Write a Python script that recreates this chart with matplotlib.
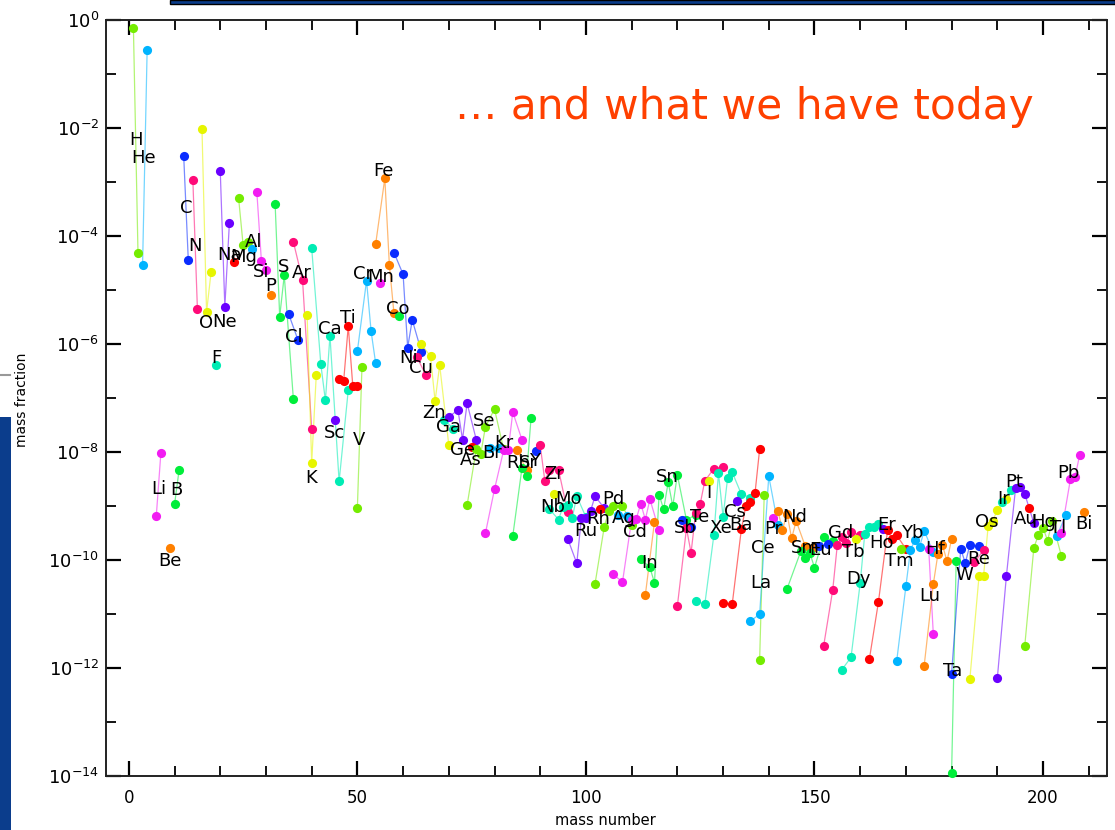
import numpy as np
import matplotlib
matplotlib.use("Agg")
import matplotlib.pyplot as plt
from matplotlib.patches import Rectangle
from matplotlib.lines import Line2D
import matplotlib.ticker as mticker

# ---------------- data (solar system isotopic mass fractions) ----------------
elements = ['H', 'He', 'Li', 'Be', 'B', 'C', 'N', 'O', 'F', 'Ne', 'Na', 'Mg', 'Al', 'Si', 'P', 'S',
            'Cl', 'Ar', 'K', 'Ca', 'Sc', 'Ti', 'V', 'Cr', 'Mn', 'Fe', 'Co', 'Ni', 'Cu', 'Zn', 'Ga',
            'Ge', 'As', 'Se', 'Br', 'Kr', 'Rb', 'Sr', 'Y', 'Zr', 'Nb', 'Mo', 'Ru', 'Rh', 'Pd', 'Ag',
            'Cd', 'In', 'Sn', 'Sb', 'Te', 'I', 'Xe', 'Cs', 'Ba', 'La', 'Ce', 'Pr', 'Nd', 'Sm', 'Eu',
            'Gd', 'Tb', 'Dy', 'Ho', 'Er', 'Tm', 'Yb', 'Lu', 'Hf', 'Ta', 'W', 'Re', 'Os', 'Ir', 'Pt',
            'Au', 'Hg', 'Tl', 'Pb', 'Bi']

mass_numbers = [
    [1, 2], [3, 4], [6, 7], [9], [10, 11], [12, 13], [14, 15], [16, 17, 18], [19], [20, 21, 22],
    [23], [24, 25, 26], [27], [28, 29, 30], [31], [32, 33, 34, 36], [35, 37], [36, 38, 40],
    [39, 40, 41], [40, 42, 43, 44, 46, 48], [45], [46, 47, 48, 49, 50], [50, 51], [50, 52, 53, 54],
    [55], [54, 56, 57, 58], [59], [58, 60, 61, 62, 64], [63, 65], [64, 66, 67, 68, 70], [69, 71],
    [70, 72, 73, 74, 76], [75], [74, 76, 77, 78, 80, 82], [79, 81], [78, 80, 82, 83, 84, 86],
    [85, 87], [84, 86, 87, 88], [89], [90, 91, 92, 94, 96], [93], [92, 94, 95, 96, 97, 98, 100],
    [96, 98, 99, 100, 101, 102, 104], [103], [102, 104, 105, 106, 108, 110], [107, 109],
    [106, 108, 110, 111, 112, 113, 114, 116], [113, 115],
    [112, 114, 115, 116, 117, 118, 119, 120, 122, 124], [121, 123],
    [120, 122, 123, 124, 125, 126, 128, 130], [127], [124, 126, 128, 129, 130, 131, 132, 134, 136],
    [133], [130, 132, 134, 135, 136, 137, 138], [138, 139], [136, 138, 140, 142], [141],
    [142, 143, 144, 145, 146, 148, 150], [144, 147, 148, 149, 150, 152, 154], [151, 153],
    [152, 154, 155, 156, 157, 158, 160], [159], [156, 158, 160, 161, 162, 163, 164], [165],
    [162, 164, 166, 167, 168, 170], [169], [168, 170, 171, 172, 173, 174, 176], [175, 176],
    [174, 176, 177, 178, 179, 180], [180, 181], [180, 182, 183, 184, 186], [185, 187],
    [184, 186, 187, 188, 189, 190, 192], [191, 193], [190, 192, 194, 195, 196, 198], [197],
    [196, 198, 199, 200, 201, 202, 204], [203, 205], [204, 206, 207, 208], [209]]

mass_fractions = [
    [0.706, 4.8e-5], [2.9e-5, 0.275], [6.5e-10, 9.4e-9], [1.66e-10], [1.07e-9, 4.7e-9],
    [3.03e-3, 3.65e-5], [1.105e-3, 4.4e-6], [9.61e-3, 3.9e-6, 2.17e-5], [4.05e-7],
    [1.575e-3, 4.9e-6, 1.77e-4], [3.34e-5], [5.15e-4, 6.8e-5, 7.8e-5], [5.8e-5],
    [6.53e-4, 3.43e-5, 2.35e-5], [8.16e-6], [3.96e-4, 3.22e-6, 1.87e-5, 9.4e-8],
    [3.52e-6, 1.19e-6], [7.74e-5, 1.53e-5, 2.7e-8], [3.47e-6, 6.3e-9, 2.63e-7],
    [5.99e-5, 4.2e-7, 9.0e-8, 1.42e-6, 2.85e-9, 1.39e-7], [3.89e-8],
    [2.23e-7, 2.08e-7, 2.15e-6, 1.64e-7, 1.64e-7], [9.3e-10, 3.77e-7],
    [7.43e-7, 1.49e-5, 1.72e-6, 4.37e-7], [1.33e-5], [7.13e-5, 1.17e-3, 2.86e-5, 3.7e-6],
    [3.36e-6], [4.94e-5, 1.95e-5, 8.6e-7, 2.78e-6, 7.26e-7], [5.75e-7, 2.65e-7],
    [9.92e-7, 5.87e-7, 8.76e-8, 4.08e-7, 1.34e-8], [3.96e-8, 2.71e-8],
    [4.47e-8, 5.99e-8, 1.7e-8, 8.0e-8, 1.7e-8], [1.245e-8],
    [1.03e-9, 1.12e-8, 9.23e-9, 2.91e-8, 6.23e-8, 1.12e-8], [1.2e-8, 1.19e-8],
    [3.1e-10, 2.05e-9, 1.08e-8, 1.09e-8, 5.45e-8, 1.69e-8], [1.08e-8, 4.55e-9],
    [2.8e-10, 5.04e-9, 3.62e-9, 4.32e-8], [1.045e-8],
    [1.335e-8, 2.94e-9, 4.55e-9, 4.71e-9, 7.75e-10], [1.64e-9],
    [8.81e-10, 5.61e-10, 9.76e-10, 1.03e-9, 5.98e-10, 1.525e-9, 6.21e-10],
    [2.49e-10, 8.67e-11, 5.92e-10, 5.93e-10, 8.08e-10, 1.517e-9, 9.15e-10], [8.96e-10],
    [3.66e-11, 4.07e-10, 8.25e-10, 1.019e-9, 1.005e-9, 4.53e-10], [6.82e-10, 6.46e-10],
    [5.4e-11, 3.91e-11, 5.6e-10, 5.79e-10, 1.1e-9, 5.62e-10, 1.334e-9, 3.54e-10],
    [2.26e-11, 5.12e-10],
    [1.05e-10, 7.27e-11, 3.78e-11, 1.63e-9, 8.68e-10, 2.76e-9, 9.87e-10, 3.78e-9, 5.46e-10, 6.94e-10],
    [5.43e-10, 4.1e-10],
    [1.4e-11, 3.86e-10, 1.36e-10, 7.27e-10, 1.086e-9, 2.906e-9, 4.94e-9, 5.35e-9], [2.89e-9],
    [1.77e-11, 1.5e-11, 2.92e-10, 4.06e-9, 6.31e-10, 3.3e-9, 4.22e-9, 1.66e-9, 1.43e-9],
    [1.25e-9], [1.57e-11, 1.51e-11, 3.68e-10, 1.01e-9, 1.21e-9, 1.75e-9, 1.124e-8],
    [1.4e-12, 1.567e-9], [7.4e-12, 9.9e-12, 3.56e-9, 4.52e-10], [5.95e-10],
    [8.08e-10, 3.65e-10, 7.18e-10, 2.52e-10, 5.26e-10, 1.79e-10, 1.77e-10],
    [2.92e-11, 1.44e-10, 1.09e-10, 1.34e-10, 7.25e-11, 2.65e-10, 2.28e-10], [1.78e-10, 1.97e-10],
    [2.54e-12, 2.8e-11, 1.92e-10, 2.67e-10, 2.05e-10, 3.28e-10, 2.92e-10], [2.43e-10],
    [9.3e-13, 1.58e-12, 3.73e-11, 3.03e-10, 4.12e-10, 4.05e-10, 4.61e-10], [3.71e-10],
    [1.44e-12, 1.68e-11, 3.54e-10, 2.43e-10, 2.86e-10, 1.61e-10], [1.62e-10],
    [1.37e-12, 3.25e-11, 1.53e-10, 2.36e-10, 1.75e-10, 3.47e-10, 1.4e-10], [1.58e-10, 4.23e-12],
    [1.1e-12, 3.57e-11, 1.28e-10, 1.89e-10, 9.5e-11, 2.46e-10], [1.13e-14, 9.48e-11],
    [7.9e-13, 1.61e-10, 8.8e-11, 1.9e-10, 1.79e-10], [9.05e-11, 1.53e-10],
    [6.3e-13, 5.02e-11, 5.11e-11, 4.27e-10, 5.2e-10, 8.57e-10, 1.345e-9], [1.19e-9, 2.02e-9],
    [6.4e-13, 5.14e-11, 2.16e-9, 2.23e-9, 1.68e-9, 4.83e-10], [9.32e-10],
    [2.53e-12, 1.7e-10, 2.89e-10, 3.97e-10, 2.28e-10, 5.19e-10, 1.21e-10], [2.79e-10, 6.73e-10],
    [3.15e-10, 3.14e-9, 3.4e-9, 8.67e-9], [7.61e-10]]

# element label anchor (mass number, log10 mass fraction)
label_mass = [1.5, 3.3, 6.6, 9.0, 10.5, 12.5, 14.5, 16.9, 19.1, 21.0, 22.1, 25.2, 27.2, 28.9,
              31.1, 33.9, 36.1, 37.9, 39.9, 44.0, 44.9, 48.0, 50.4, 51.2, 55.0, 55.8, 58.9, 61.1,
              63.9, 66.8, 69.9, 73.1, 74.9, 77.7, 79.5, 82.1, 85.2, 87.4, 88.7, 93.1, 92.8, 96.1,
              99.9, 102.7, 106.0, 108.2, 110.8, 113.9, 117.8, 121.7, 124.8, 126.8, 129.6, 132.5,
              134.0, 138.2, 138.6, 141.0, 145.6, 148.0, 151.3, 155.7, 158.5, 159.6, 164.7, 165.8,
              168.6, 171.5, 175.2, 176.5, 180.2, 182.8, 185.9, 187.7, 191.4, 193.8, 196.2, 200.1,
              203.4, 205.6, 208.9]
label_logy = [-2.23, -2.55, -8.68, -10.02, -8.70, -3.49, -4.18, -5.61, -6.26, -5.59, -4.35,
              -4.39, -4.11, -4.67, -4.93, -4.57, -5.87, -4.68, -8.48, -5.72, -7.64, -5.52, -7.77,
              -4.70, -4.76, -2.79, -5.35, -6.26, -6.45, -7.27, -7.53, -7.97, -8.14, -7.43, -8.01,
              -7.83, -8.20, -8.20, -8.16, -8.40, -9.01, -8.87, -9.46, -9.24, -8.87, -9.22, -9.48,
              -10.06, -8.46, -9.41, -9.20, -8.75, -9.41, -9.11, -9.35, -10.43, -9.78, -9.42, -9.20,
              -9.78, -9.81, -9.50, -9.85, -10.35, -9.68, -9.35, -10.02, -9.50, -10.67, -9.80,
              -12.06, -10.28, -9.98, -9.29, -8.87, -8.55, -9.24, -9.29, -9.41, -8.38, -9.33]

x_ticks = [0, 50, 100, 150, 200]
y_ticks = [1e-14, 1e-12, 1e-10, 1e-8, 1e-6, 1e-4, 1e-2, 1e0]
title_text = "\u2026 and what we have today"

palette = ['#74ec00', '#00b4ff', '#f21cf2', '#ff8000', '#00ee3a', '#0a2cff',
           '#ff0a78', '#e6f500', '#00ecb4', '#6a00ff', '#ff0000']

# ---------------- figure ----------------
W, H = 1115, 830
fig = plt.figure(figsize=(W / 100, H / 100), dpi=100)
ax = fig.add_axes([106 / W, 1 - 776 / H, (1107 - 106) / W, (776 - 20) / H])
ax.set_yscale('log')
ax.set_xlim(-5, 214)
ax.set_ylim(1e-14, 1.0)

for i, (sym, a, x) in enumerate(zip(elements, mass_numbers, mass_fractions)):
    c = palette[i % len(palette)]
    ax.plot(a, x, '-', color=c, lw=0.9, alpha=0.55, zorder=2, clip_on=False)
    ax.plot(a, x, 'o', color=c, ms=6.6, mec='none', zorder=3, clip_on=False)

for sym, lm, ly in zip(elements, label_mass, label_logy):
    ax.text(lm, 10 ** ly, sym, ha='center', va='center', fontsize=13, color='black', zorder=5)

# axes styling
ax.xaxis.set_major_locator(mticker.FixedLocator(x_ticks))
ax.xaxis.set_minor_locator(mticker.MultipleLocator(10))
ax.yaxis.set_major_locator(mticker.FixedLocator(y_ticks))
ax.yaxis.set_major_formatter(mticker.LogFormatterSciNotation())
ax.yaxis.set_minor_locator(mticker.FixedLocator([10.0 ** k for k in range(-13, 0, 2)]))
ax.yaxis.set_minor_formatter(mticker.NullFormatter())
ax.tick_params(which='both', direction='in', top=True, right=True, color='black')
ax.tick_params(which='major', length=11, width=1.6)
ax.tick_params(which='minor', length=7, width=1.3)
ax.tick_params(axis='x', which='major', labelsize=12, pad=9)
ax.tick_params(axis='y', which='major', labelsize=13, pad=5)
for s in ax.spines.values():
    s.set_linewidth(1.4)
    s.set_color('#222222')

fig.text(22 / W, 1 - 400 / H, 'mass fraction', rotation=90, ha='center', va='center', fontsize=10)
fig.text(605 / W, 1 - 820 / H, 'mass number', ha='center', va='center', fontsize=10.5)
fig.text(455 / W, 1 - 107 / H, title_text, ha='left', va='center', fontsize=30.5, color='#ff4000')

# slide decorations
fig.patches.append(Rectangle((0, 0), 11 / W, (830 - 417) / H, transform=fig.transFigure,
                             facecolor='#0b3d8c', edgecolor='none', zorder=0))
fig.patches.append(Rectangle((170 / W, 1 - 4 / H), (W - 170) / W, 4 / H, transform=fig.transFigure,
                             facecolor='#0b3d8c', edgecolor='black', lw=1.0, zorder=0))
fig.lines.append(Line2D([0, 10 / W], [1 - 375 / H, 1 - 375 / H], transform=fig.transFigure,
                        color='#999999', lw=1.5))

fig.savefig('out.png', dpi=100)
